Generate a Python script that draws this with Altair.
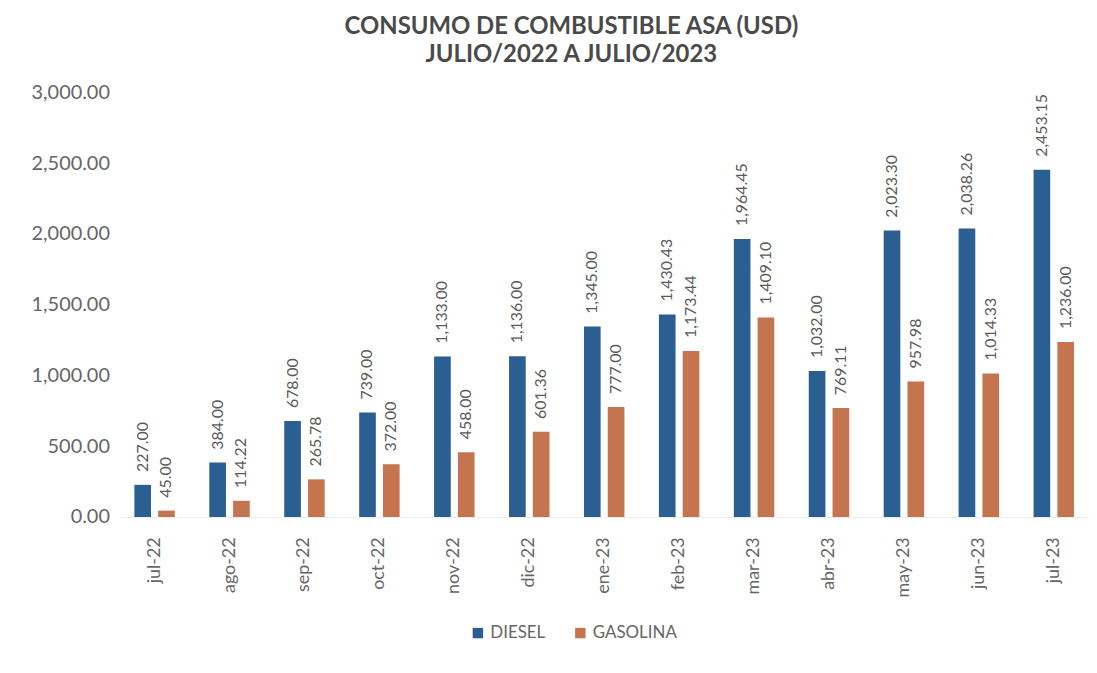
import altair as alt
import pandas as pd

months = ["jul-22", "ago-22", "sep-22", "oct-22", "nov-22", "dic-22", "ene-23",
          "feb-23", "mar-23", "abr-23", "may-23", "jun-23", "jul-23"]
diesel = [227.00, 384.00, 678.00, 739.00, 1133.00, 1136.00, 1345.00,
          1430.43, 1964.45, 1032.00, 2023.30, 2038.26, 2453.15]
gasolina = [45.00, 114.22, 265.78, 372.00, 458.00, 601.36, 777.00,
            1173.44, 1409.10, 769.11, 957.98, 1014.33, 1236.00]
series = ["DIESEL", "GASOLINA"]
colors = ["#2b5f91", "#c4754f"]

rows = []
for i, m in enumerate(months):
    rows.append({"mes": m, "tipo": series[0], "valor": diesel[i]})
    rows.append({"mes": m, "tipo": series[1], "valor": gasolina[i]})
df = pd.DataFrame(rows)

FONT = "Lato"
GRAY = "#666666"

x = alt.X("mes:N", sort=months, title=None,
          scale=alt.Scale(paddingInner=0.46, paddingOuter=0.2),
          axis=alt.Axis(labelAngle=-90, labelFontSize=18, labelColor=GRAY,
                        labelFont=FONT, labelPadding=20, ticks=False,
                        domain=True, domainColor="#ececec"))
xo = alt.XOffset("tipo:N", sort=series, scale=alt.Scale(paddingInner=0.3))
y = alt.Y("valor:Q", title=None,
          scale=alt.Scale(domain=[0, 3000]),
          axis=alt.Axis(values=[0, 500, 1000, 1500, 2000, 2500, 3000],
                        format=",.2f", labelFontSize=20, labelColor=GRAY,
                        labelFont=FONT, labelPadding=10, ticks=False,
                        domain=False, grid=False))

base = alt.Chart(df)

bars = base.mark_bar().encode(
    x=x, xOffset=xo, y=y,
    color=alt.Color("tipo:N", sort=series, title=None,
                    scale=alt.Scale(domain=series, range=colors),
                    legend=alt.Legend(orient="none", direction="horizontal",
                                      legendX=352, legendY=535,
                                      symbolType="square", symbolSize=110,
                                      symbolStrokeWidth=0,
                                      labelFontSize=17, labelColor=GRAY,
                                      labelFont=FONT, columnPadding=26))
)

labels = base.mark_text(angle=270, align="left", baseline="middle", dx=13,
                        fontSize=16, font=FONT, color="#5a5a5a").encode(
    x=x, xOffset=xo, y=y,
    text=alt.Text("valor:Q", format=",.2f"),
    detail="tipo:N"
)

chart = alt.layer(bars, labels).properties(
    width=975, height=427,
    title=alt.TitleParams(["CONSUMO DE COMBUSTIBLE ASA (USD)", "JULIO/2022 A JULIO/2023"],
                          fontSize=24, font=FONT, fontWeight="bold", color="#4a4a4a",
                          anchor="middle", offset=16, lineHeight=28, dx=-33),
    autosize=alt.AutoSizeParams(type="none"),
    padding={"left": 112, "top": 83, "right": 0, "bottom": 140}
).configure(background="white").configure_view(stroke=None)

chart.save("out.html", embed_options={"renderer": "svg", "actions": False})
